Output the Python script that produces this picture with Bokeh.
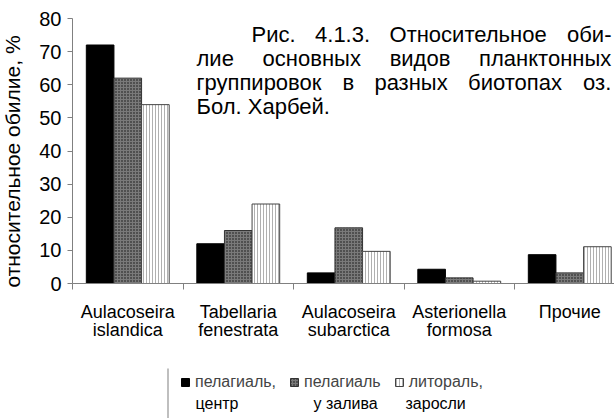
import math
from bokeh.plotting import figure
from bokeh.models import (Range1d, FixedTicker, Label, Legend, LegendItem,
                          ColumnDataSource, BoxAnnotation)
from bokeh.embed import file_html
from bokeh.resources import INLINE

# ---- data ----
categories = ["Aulacoseira\nislandica", "Tabellaria\nfenestrata",
              "Aulacoseira\nsubarctica", "Asterionella\nformosa", "Прочие"]
series_labels = ["пелагиаль,", "пелагиаль", "литораль,"]
series_sublabels = ["центр", "у залива", "заросли"]
pelagial_center = [72, 12, 3.2, 4.3, 8.7]
pelagial_bay = [62, 16, 16.8, 1.7, 3.2]
littoral = [54, 24, 9.7, 0.7, 11.1]
y_ticks = [0, 10, 20, 30, 40, 50, 60, 70, 80]
y_label = "относительное обилие, %"
caption_lines = ["Рис. 4.1.3. Относительное оби-",
                 "лие основных видов планктонных",
                 "группировок в разных биотопах оз.",
                 "Бол. Харбей."]

FONT = "Liberation Sans"
W, H = 614, 418
n = len(categories)
centers = [i + 0.5 for i in range(n)]

# pixel geometry of the plotting area (axes are fixed inside the canvas)
X0, PX_PER_CAT = 72, 110.5
Y0, PX_PER_UNIT = 283, 265 / 80

p = figure(width=W, height=H, output_backend="svg", toolbar_location=None,
           x_range=Range1d(-X0 / PX_PER_CAT, (W - X0) / PX_PER_CAT),
           y_range=Range1d(-(H - Y0) / PX_PER_UNIT, Y0 / PX_PER_UNIT),
           min_border_left=0, min_border_top=0, min_border_bottom=0,
           min_border_right=0, background_fill_color="white",
           border_fill_color="white", outline_line_color=None)
p.xgrid.visible = False
p.ygrid.visible = False

bw = 0.25
series = [pelagial_center, pelagial_bay, littoral]
offsets = [-0.25, 0.0, 0.25]
styles = [
    dict(fill_color="black", line_color="black"),
    dict(fill_color="#7a7a7a", line_color="#333333", hatch_pattern="dot",
         hatch_color="#111111", hatch_scale=3, hatch_weight=1.4),
    dict(fill_color="white", line_color="#444444", hatch_pattern="vertical_line",
         hatch_color="#b0b0b0", hatch_scale=3, hatch_weight=1),
]
renderers = []
for vals, off, st in zip(series, offsets, styles):
    src = ColumnDataSource(dict(x=[c + off for c in centers], top=vals))
    r = p.vbar(x="x", top="top", width=bw, bottom=0, source=src, line_width=1, **st)
    renderers.append(r)

# y axis (fixed at x = 0)
ya = p.yaxis[0]
ya.fixed_location = 0
ya.bounds = (0, 80)
ya.ticker = FixedTicker(ticks=y_ticks)
ya.axis_line_color = "#808080"
ya.major_tick_line_color = "#808080"
ya.major_tick_out = 5
ya.major_tick_in = 0
ya.minor_tick_line_color = None
ya.major_label_text_font = FONT
ya.major_label_text_font_size = "20px"
ya.major_label_text_color = "black"
ya.major_label_standoff = 6

# x axis (fixed at y = 0)
xa = p.xaxis[0]
xa.fixed_location = 0
xa.bounds = (0, n)
xa.ticker = FixedTicker(ticks=centers, minor_ticks=list(range(n + 1)))
xa.major_label_overrides = {c: lab for c, lab in zip(centers, categories)}
xa.axis_line_color = "#808080"
xa.major_tick_line_color = None
xa.minor_tick_line_color = "#808080"
xa.minor_tick_out = 6
xa.minor_tick_in = 0
xa.major_label_text_font = FONT
xa.major_label_text_font_size = "18px"
xa.major_label_text_line_height = 0.92
xa.major_label_text_color = "black"
xa.major_label_standoff = 12

# y label
p.add_layout(Label(x=12, y=H - 161, x_units="screen", y_units="screen", text=y_label,
                   angle=math.pi / 2, text_align="center", text_baseline="middle",
                   text_font=FONT, text_font_size="21px", text_color="black"))

# caption, justified word by word (approximate Arial advance widths, em/1000)
AW = {'Р': 667, 'и': 559, 'с': 500, '.': 278, '4': 556, '1': 556, '3': 556, 'О': 778,
      'т': 458, 'н': 552, 'о': 556, 'л': 583, 'ь': 521, 'е': 556, 'б': 573, '-': 333,
      'в': 531, 'ы': 719, 'х': 500, 'д': 583, 'п': 552, 'а': 556, 'к': 438, 'г': 365,
      'у': 500, 'р': 556, 'з': 458, 'Б': 656, 'Х': 667, 'й': 559, ' ': 278}
CAP_FS = 22
def tw(s):
    return sum(AW.get(ch, 556) for ch in s) * CAP_FS / 1000

cap_left = [251, 196, 196, 196]
cap_right = [611, 611, 611, None]
cap_base = [34, 58, 82, 106]
for t, x0, x1, yb in zip(caption_lines, cap_left, cap_right, cap_base):
    if x1 is None:
        parts, xs = [t], [x0]
    else:
        parts = t.split(" ")
        widths = [tw(w) for w in parts]
        gap = (x1 - x0 - sum(widths)) / (len(parts) - 1)
        xs, cx = [], x0
        for w in widths:
            xs.append(cx)
            cx += w + gap
    for word, xx in zip(parts, xs):
        p.add_layout(Label(x=xx, y=H - yb, x_units="screen", y_units="screen", text=word,
                           text_align="left", text_baseline="alphabetic",
                           text_font=FONT, text_font_size=f"{CAP_FS}px", text_color="black"))

# legend: first row with swatches (location = bottom-left corner from canvas bottom)
legend = Legend(items=[LegendItem(label=lab, renderers=[r]) for lab, r in zip(series_labels, renderers)],
                orientation="horizontal", location=(180, 27),
                label_text_font=FONT, label_text_font_size="16px",
                glyph_width=10, glyph_height=10, label_standoff=5, spacing=13,
                padding=0, margin=0, border_line_color=None, background_fill_alpha=0)
p.add_layout(legend, "center")
# second row of the legend texts
sub_x = [195, 313, 405]
for t, sx in zip(series_sublabels, sub_x):
    p.add_layout(Label(x=sx, y=H - 403, x_units="screen", y_units="screen", text=t,
                       text_align="left", text_baseline="middle",
                       text_font=FONT, text_font_size="16px", text_color="black"))

p.add_layout(BoxAnnotation(left=167, right=168, top=H - 368, bottom=0,
                           left_units="screen", right_units="screen",
                           top_units="screen", bottom_units="screen",
                           fill_color="#808080", fill_alpha=1, line_color=None))

open("out.html", "w").write(file_html(p, INLINE))
